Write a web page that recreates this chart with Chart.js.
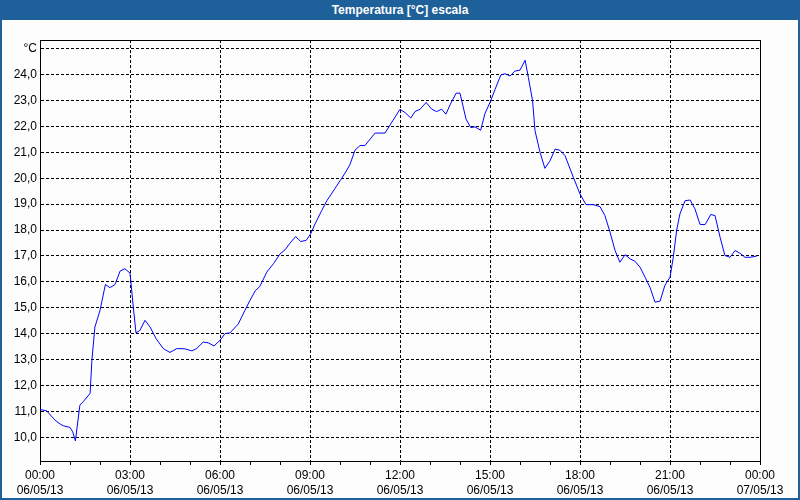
<!DOCTYPE html>
<html>
<head>
<meta charset="utf-8">
<script src="https://cdn.jsdelivr.net/npm/chart.js@4.4.1/dist/chart.umd.min.js"></script>
<style>
html,body{margin:0;padding:0;background:#fcfdfc;}
#wrap{position:relative;width:800px;height:500px;overflow:hidden;background:#fcfdfc;}
#chart{position:absolute;left:0;top:0;}
#title{position:absolute;left:0;top:0;width:800px;height:20px;background:#1e6099;color:#fff;font:bold 12px "Liberation Sans",Arial,sans-serif;text-align:center;line-height:20px;}
#frame{position:absolute;left:0;top:0;width:800px;height:500px;box-sizing:border-box;border:2px solid #1e6099;border-top:0;pointer-events:none;}
</style>
</head>
<body>
<div id="wrap">
  <canvas id="chart" width="800" height="500"></canvas>
  <div id="title">Temperatura [°C] escala</div>
  <div id="frame"></div>
</div>
<script>
// Time of day in hours (0 = 00:00 06/05/13, 24 = 00:00 07/05/13)
const hours = [0, 0.22, 0.5, 0.67, 0.78, 1.0, 1.09, 1.18, 1.33, 1.44,
  1.67, 1.73, 1.83, 2.0, 2.18, 2.33, 2.5, 2.67, 2.83, 3.0,
  3.11, 3.2, 3.33, 3.5, 3.67, 3.87, 4.11, 4.33, 4.56, 4.83,
  5.06, 5.22, 5.44, 5.61, 5.8, 6.0, 6.17, 6.33, 6.61, 6.83,
  7.0, 7.17, 7.33, 7.56, 7.78, 8.0, 8.17, 8.33, 8.52, 8.69,
  8.87, 9.02, 9.17, 9.39, 9.56, 9.83, 10.0, 10.17, 10.33, 10.5,
  10.67, 10.83, 11.17, 11.5, 12.0, 12.17, 12.36, 12.5, 12.67, 12.87,
  13.06, 13.22, 13.39, 13.53, 13.67, 13.87, 14.0, 14.2, 14.36, 14.5,
  14.69, 14.83, 15.0, 15.17, 15.36, 15.5, 15.67, 15.83, 16.0, 16.17,
  16.28, 16.42, 16.5, 16.67, 16.83, 17.0, 17.17, 17.33, 17.5, 17.78,
  18.0, 18.2, 18.44, 18.67, 18.83, 19.0, 19.17, 19.33, 19.5, 19.67,
  19.83, 20.0, 20.17, 20.33, 20.5, 20.67, 20.83, 21.0, 21.11, 21.22,
  21.33, 21.5, 21.67, 21.83, 22.0, 22.17, 22.36, 22.5, 22.67, 22.83,
  23.0, 23.17, 23.33, 23.5, 23.67, 23.9];

// Temperature in °C
const temps = [11.08, 11.03, 10.67, 10.52, 10.45, 10.39, 10.22, 9.87, 11.25, 11.38,
  11.70, 12.98, 14.26, 14.90, 15.90, 15.78, 15.90, 16.42, 16.51, 16.34,
  15.03, 14.03, 14.13, 14.52, 14.26, 13.81, 13.43, 13.28, 13.43, 13.42,
  13.34, 13.43, 13.68, 13.65, 13.53, 13.75, 14.01, 14.03, 14.38, 14.9,
  15.29, 15.65, 15.83, 16.38, 16.70, 17.08, 17.24, 17.49, 17.75, 17.56,
  17.6, 17.85, 18.24, 18.75, 19.13, 19.6, 19.9, 20.2, 20.52, 21.08,
  21.26, 21.26, 21.74, 21.74, 22.66, 22.53, 22.32, 22.57, 22.66, 22.92,
  22.66, 22.57, 22.66, 22.47, 22.83, 23.28, 23.28, 22.28, 21.95, 21.98,
  21.85, 22.49, 22.92, 23.43, 23.98, 24.03, 23.94, 24.13, 24.17, 24.55,
  23.88, 22.98, 21.83, 20.99, 20.38, 20.67, 21.12, 21.08, 20.87, 20.03,
  19.39, 18.98, 18.98, 18.90, 18.56, 17.92, 17.21, 16.76, 17.05, 16.89,
  16.80, 16.57, 16.18, 15.80, 15.22, 15.26, 15.87, 16.18, 16.95, 17.98,
  18.62, 19.13, 19.16, 18.82, 18.22, 18.21, 18.6, 18.56, 17.72, 17.02,
  16.95, 17.21, 17.11, 16.95, 16.95, 17.0];

// X tick labels (every 3 hours)
const timeLabels = ['00:00', '03:00', '06:00', '09:00', '12:00', '15:00', '18:00', '21:00', '00:00'];
const dateLabels = ['06/05/13', '06/05/13', '06/05/13', '06/05/13', '06/05/13', '06/05/13', '06/05/13', '06/05/13', '07/05/13'];

// Y tick labels
const yTickValues = [10, 11, 12, 13, 14, 15, 16, 17, 18, 19, 20, 21, 22, 23, 24, 25];
const yTickLabels = ['10,0', '11,0', '12,0', '13,0', '14,0', '15,0', '16,0', '17,0', '18,0', '19,0', '20,0', '21,0', '22,0', '23,0', '24,0', '°C'];

const yMin = 9.094, yMax = 25.33;

const points = hours.map((h, i) => ({ x: h, y: temps[i] }));

const frameBox = {
  id: 'frameBox',
  afterDraw(chart) {
    const a = chart.chartArea, ctx = chart.ctx;
    ctx.save();
    ctx.strokeStyle = '#000';
    ctx.lineWidth = 1;
    ctx.beginPath();
    ctx.moveTo(Math.round(a.left), Math.round(a.top) + 0.5);
    ctx.lineTo(Math.round(a.right) + 1, Math.round(a.top) + 0.5);
    ctx.moveTo(Math.round(a.right) + 0.5, Math.round(a.top));
    ctx.lineTo(Math.round(a.right) + 0.5, Math.round(a.bottom) + 1);
    ctx.stroke();
    ctx.restore();
  }
};

const font = { family: '"Liberation Sans", Arial, sans-serif', size: 12, lineHeight: 1.25 };

new Chart(document.getElementById('chart'), {
  type: 'line',
  data: {
    datasets: [{
      data: points,
      borderColor: '#0000ff',
      borderWidth: 1,
      pointRadius: 0,
      tension: 0,
      fill: false
    }]
  },
  options: {
    responsive: false,
    animation: false,
    events: [],
    layout: { padding: { top: 40, right: 40, left: 0, bottom: 0 } },
    plugins: { legend: { display: false }, tooltip: { enabled: false }, title: { display: false } },
    scales: {
      x: {
        type: 'linear',
        min: 0,
        max: 24,
        afterFit: s => { s.height = 39; },
        ticks: {
          stepSize: 1,
          autoSkip: false,
          maxRotation: 0,
          minRotation: 0,
          padding: 3,
          color: '#000',
          font: font,
          callback: v => {
            if (v % 3 !== 0) return '';
            const i = v / 3;
            return [timeLabels[i], dateLabels[i]];
          }
        },
        grid: {
          color: c => (c.tick && c.tick.value % 3 === 0) ? '#000' : 'rgba(0,0,0,0)',
          tickColor: '#000',
          tickLength: 4,
          lineWidth: 1,
          drawTicks: true
        },
        border: { display: true, color: '#000', width: 1, dash: [3, 2] }
      },
      y: {
        min: yMin,
        max: yMax,
        afterFit: s => { s.width = 40; },
        ticks: {
          stepSize: 1,
          includeBounds: false,
          padding: 3,
          color: '#000',
          font: font,
          callback: v => {
            const i = yTickValues.indexOf(Math.round(v));
            return i >= 0 ? yTickLabels[i] : '';
          }
        },
        grid: { color: '#000', lineWidth: 1, drawTicks: false },
        border: { display: true, color: '#000', width: 1, dash: [3, 2] }
      }
    }
  },
  plugins: [frameBox]
});
</script>
</body>
</html>
